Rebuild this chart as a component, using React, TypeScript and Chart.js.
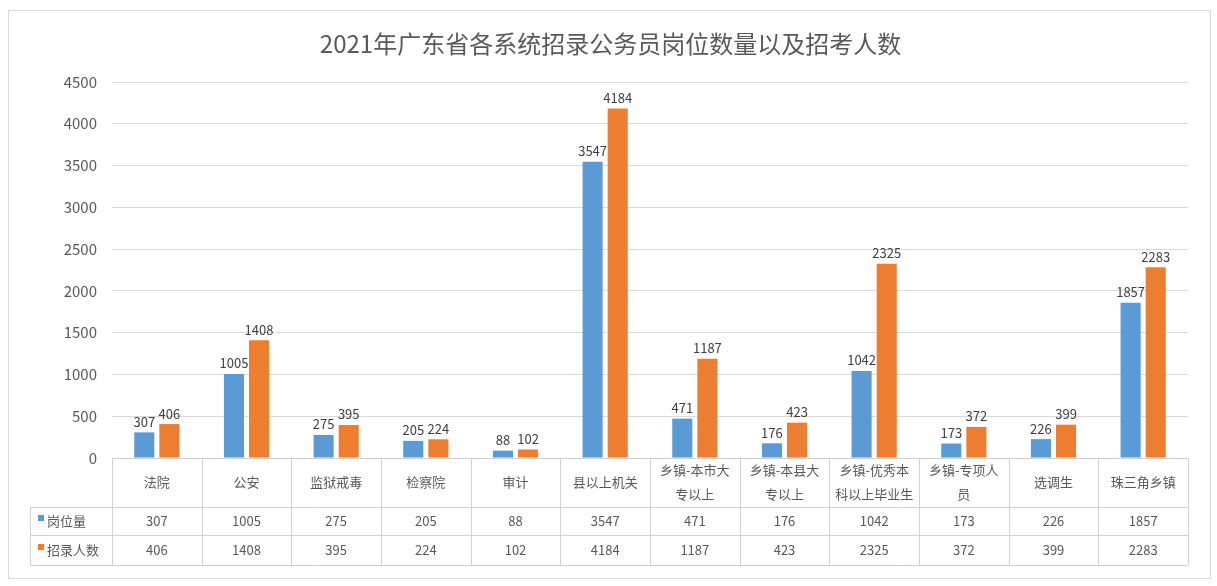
import React, { useEffect, useRef } from "react";
import { Chart, registerables } from "chart.js";

Chart.register(...registerables);

const title = "2021年广东省各系统招录公务员岗位数量以及招考人数";
const categoryLines: string[][] = [
  ["法院"],
  ["公安"],
  ["监狱戒毒"],
  ["检察院"],
  ["审计"],
  ["县以上机关"],
  ["乡镇-本市大", "专以上"],
  ["乡镇-本县大", "专以上"],
  ["乡镇-优秀本", "科以上毕业生"],
  ["乡镇-专项人", "员"],
  ["选调生"],
  ["珠三角乡镇"],
];
const seriesNames = ["岗位量", "招录人数"];
const posts = [307, 1005, 275, 205, 88, 3547, 471, 176, 1042, 173, 226, 1857];
const applicants = [406, 1408, 395, 224, 102, 4184, 1187, 423, 2325, 372, 399, 2283];
const yMax = 4500;
const yStep = 500;

const colors = ["#5B9BD5", "#ED7D31"];
const FONT = '"Noto Sans CJK SC", "Noto Sans", sans-serif';
const TEXT = "#595959";
const LINE = "#d9d9d9";

const tablePlugin = {
  id: "tablePlugin",
  afterDatasetsDraw(chart: any) {
    const ctx = chart.ctx;
    ctx.save();
    ctx.font = `13px ${FONT}`;
    ctx.fillStyle = "#404040";
    ctx.textAlign = "center";
    ctx.textBaseline = "bottom";
    chart.data.datasets.forEach((ds: any, di: number) => {
      const meta = chart.getDatasetMeta(di);
      meta.data.forEach((el: any, i: number) => {
        ctx.fillText(String(ds.data[i]), el.x, el.y - 4);
      });
    });
    ctx.restore();
  },
  afterDraw(chart: any) {
    const ctx = chart.ctx;
    const x = chart.scales.x;
    const area = chart.chartArea;
    const n = categoryLines.length;
    const colW = (area.right - area.left) / n;
    const top = area.bottom;
    const r1 = top + 49;
    const r2 = r1 + 28;
    const r3 = r2 + 30;
    const legendLeft = 30;

    ctx.save();
    ctx.font = `24px ${FONT}`;
    ctx.fillStyle = TEXT;
    ctx.textAlign = "center";
    ctx.textBaseline = "middle";
    ctx.fillText(title, chart.width / 2 + 2, 44);

    ctx.strokeStyle = LINE;
    ctx.lineWidth = 1;
    ctx.strokeRect(8.5, 10.5, 1202, 568);

    ctx.strokeStyle = "#d0d0d0";
    ctx.beginPath();
    ctx.moveTo(area.left, top + 0.5);
    ctx.lineTo(area.right, top + 0.5);
    [r1, r2, r3].forEach((yy) => {
      ctx.moveTo(legendLeft, Math.round(yy) + 0.5);
      ctx.lineTo(area.right, Math.round(yy) + 0.5);
    });
    for (let i = 0; i <= n; i++) {
      const xx = Math.round(area.left + i * colW) + 0.5;
      ctx.moveTo(xx, top);
      ctx.lineTo(xx, r3);
    }
    ctx.moveTo(legendLeft + 0.5, r1);
    ctx.lineTo(legendLeft + 0.5, r3);
    ctx.stroke();

    ctx.font = `13px ${FONT}`;
    ctx.fillStyle = TEXT;
    ctx.textAlign = "center";
    ctx.textBaseline = "middle";
    const lh = 24;
    categoryLines.forEach((lines, i) => {
      const cx = x.getPixelForValue(i);
      const cy = (top + r1) / 2;
      const start = cy - ((lines.length - 1) * lh) / 2;
      lines.forEach((ln, j) => ctx.fillText(ln, cx, start + j * lh));
    });

    const rows = [posts, applicants];
    const rowMid = [(r1 + r2) / 2, (r2 + r3) / 2];
    rows.forEach((vals, ri) => {
      vals.forEach((v, i) => {
        ctx.fillText(String(v), x.getPixelForValue(i), rowMid[ri]);
      });
      ctx.fillStyle = colors[ri];
      ctx.fillRect(legendLeft + 8, rowMid[ri] - 6, 6, 6);
      ctx.fillStyle = TEXT;
      ctx.textAlign = "left";
      ctx.fillText(seriesNames[ri], legendLeft + 17, rowMid[ri]);
      ctx.textAlign = "center";
    });
    ctx.restore();
  },
};

export default function App() {
  const ref = useRef<HTMLCanvasElement>(null);
  useEffect(() => {
    if (!ref.current) return;
    const chart = new Chart(ref.current, {
      type: "bar",
      data: {
        labels: categoryLines.map((l) => l.join("")),
        datasets: [
          { label: seriesNames[0], data: posts, backgroundColor: colors[0], categoryPercentage: 0.56, barPercentage: 0.8 },
          { label: seriesNames[1], data: applicants, backgroundColor: colors[1], categoryPercentage: 0.56, barPercentage: 0.8 },
        ],
      },
      options: {
        animation: false,
        responsive: false,
        maintainAspectRatio: false,
        layout: { padding: { top: 82, bottom: 128, left: 0, right: 29 } },
        plugins: { legend: { display: false }, title: { display: false }, tooltip: { enabled: false } },
        scales: {
          x: { display: false },
          y: {
            min: 0,
            max: yMax,
            ticks: {
              stepSize: yStep,
              padding: 15,
              color: TEXT,
              font: { family: FONT, size: 15 },
              callback: (v: any) => String(v),
            },
            grid: { color: LINE, drawTicks: false },
            border: { display: false },
            afterFit: (s: any) => {
              s.width = 112;
            },
          },
        },
      },
      plugins: [tablePlugin],
    });
    return () => chart.destroy();
  }, []);
  return (
    <div style={{ position: "fixed", left: 0, top: 0, width: 1217, height: 586, background: "#fff" }}>
      <canvas ref={ref} width={1217} height={586} style={{ width: 1217, height: 586, display: "block" }} />
    </div>
  );
}
